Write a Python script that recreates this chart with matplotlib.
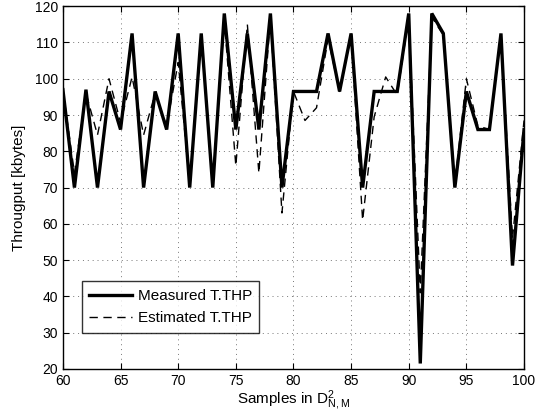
import matplotlib
matplotlib.use("Agg")
import matplotlib.pyplot as plt

plt.rcParams['font.family'] = ['Liberation Sans', 'DejaVu Sans']
plt.rcParams['mathtext.fontset'] = 'custom'
plt.rcParams['mathtext.rm'] = 'Liberation Sans'
plt.rcParams['mathtext.it'] = 'Liberation Sans'

samples = list(range(60, 101))
measured = [97, 70, 97, 70, 96.5, 86, 112.5, 70, 96.5, 86,
            112.5, 70, 112.5, 70, 118, 86, 112.5, 86, 118, 70,
            96.5, 96.5, 96.5, 112.5, 96.5, 112.5, 70, 96.5, 96.5, 96.5,
            118, 21.5, 118, 112.5, 70, 96.5, 86, 86, 112.5, 48.5,
            86]
estimated = [97, 74, 96, 84.5, 100, 88, 100.5, 84.5, 96, 87,
             104.5, 71, 112, 71, 116, 76, 115, 74, 117, 63,
             96.5, 88.5, 92, 111, 96.5, 112, 61, 89.5, 100.5, 95.5,
             117, 41, 117, 112, 71, 100, 87, 86, 112, 56,
             88.5]

fig = plt.figure(figsize=(5.47, 4.15), dpi=100)
ax = fig.add_axes([0.115, 0.111, 0.843, 0.874])
ax.plot(samples, measured, color='black', lw=2.4, solid_joinstyle='miter',
        label='Measured T.THP')
ax.plot(samples, estimated, color='black', lw=1.0, ls=(0, (6, 4)),
        label='Estimated T.THP')
ax.set_xlim(60, 100)
ax.set_ylim(20, 120)
ax.set_xticks(range(60, 101, 5))
ax.set_yticks(range(20, 121, 10))
ax.tick_params(direction='in', labelsize=10, top=True, right=True, length=4)
ax.grid(True, ls=(0, (1, 4)), color='#777777', lw=0.7)
for s in ax.spines.values():
    s.set_linewidth(1.0)
ax.set_xlabel(r'Samples in D$^2_{\mathrm{N,M}}$', fontsize=11, labelpad=1)
ax.set_ylabel('Througput [kbytes]', fontsize=11, labelpad=6)
leg = ax.legend(loc='lower left', bbox_to_anchor=(0.041, 0.099), fontsize=11,
                frameon=True, fancybox=False, edgecolor='black',
                handlelength=2.8, handletextpad=0.35, borderpad=0.5,
                labelspacing=0.55, borderaxespad=0)
leg.get_frame().set_linewidth(1.0)
fig.savefig('out.png', dpi=100)
